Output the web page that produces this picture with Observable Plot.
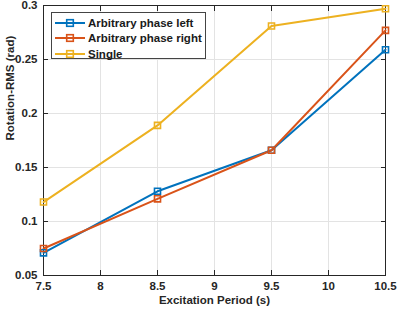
<!DOCTYPE html>
<html>
<head>
<meta charset="utf-8">
<script src="https://cdn.jsdelivr.net/npm/d3@7"></script>
<script src="https://cdn.jsdelivr.net/npm/@observablehq/plot@0.6"></script>
<style>
  body { margin: 0; background: #fff; }
  #wrap { position: relative; width: 397px; height: 310px; font-family: "Liberation Sans", Arial, sans-serif; }
  #legend { position: absolute; left: 51px; top: 12px; width: 155px; height: 47px; border: 1px solid #444; background: #fff; box-sizing: border-box; }
  .row { position: absolute; left: 0; height: 16px; display: flex; align-items: center; font-size: 11.5px; font-weight: bold; color: #1a1a1a; white-space: nowrap; }
  .row svg { margin-left: 3px; margin-right: 3px; }
</style>
</head>
<body>
<div id="wrap"></div>
<script>
const periods = [7.5, 8.5, 9.5, 10.5];
const leftVals = [0.071, 0.128, 0.166, 0.259];
const rightVals = [0.075, 0.121, 0.166, 0.277];
const singleVals = [0.118, 0.189, 0.281, 0.297];
const seriesNames = ["Arbitrary phase left", "Arbitrary phase right", "Single"];
const seriesColors = ["#0072BD", "#D95319", "#EDB120"];
const xTicks = [7.5, 8, 8.5, 9, 9.5, 10, 10.5];
const yTicks = [0.05, 0.1, 0.15, 0.2, 0.25, 0.3];
const xLabel = "Excitation Period (s)";
const yLabel = "Rotation-RMS (rad)";

const allVals = [leftVals, rightVals, singleVals];
const data = [];
allVals.forEach((vals, si) => vals.forEach((v, i) => data.push({series: seriesNames[si], x: periods[i], y: v})));

const axisColor = "#262626";
const font = "'Liberation Sans', Arial, sans-serif";

const chart = Plot.plot({
  width: 397,
  height: 310,
  marginLeft: 43,
  marginRight: 12,
  marginTop: 5,
  marginBottom: 35,
  style: {fontFamily: font, fontSize: "11.5px", fontWeight: "bold", color: axisColor, background: "#fff"},
  x: {domain: [7.5, 10.5]},
  y: {domain: [0.05, 0.3]},
  color: {domain: seriesNames, range: seriesColors},
  marks: [
    Plot.gridX(xTicks, {stroke: "#e3e3e3", strokeOpacity: 1}),
    Plot.gridY(yTicks, {stroke: "#e3e3e3", strokeOpacity: 1}),
    Plot.axisX(xTicks, {anchor: "bottom", tickSize: -5, tickPadding: 11, stroke: axisColor, fill: axisColor, tickFormat: d => String(d), label: null}),
    Plot.axisX(xTicks, {anchor: "top", tickSize: -5, stroke: axisColor, fill: "none", label: null}),
    Plot.axisY(yTicks, {anchor: "left", tickSize: -5, tickPadding: 11, stroke: axisColor, fill: axisColor, tickFormat: d => String(d), label: null}),
    Plot.axisY(yTicks, {anchor: "right", tickSize: -5, stroke: axisColor, fill: "none", label: null}),
    Plot.frame({stroke: axisColor}),
    Plot.line(data, {x: "x", y: "y", z: "series", stroke: "series", strokeWidth: 2}),
    Plot.dot(data, {x: "x", y: "y", stroke: "series", symbol: "square", r: 3.4, strokeWidth: 1.6, fill: "none"}),
    Plot.text([xLabel], {frameAnchor: "bottom", dy: 28, fill: axisColor, fontSize: 11.5, fontWeight: "bold"}),
    Plot.text([yLabel], {frameAnchor: "left", dx: -33, rotate: -90, fill: axisColor, fontSize: 11.5, fontWeight: "bold"})
  ]
});

const wrap = document.getElementById("wrap");
wrap.appendChild(chart);

const legend = document.createElement("div");
legend.id = "legend";
seriesNames.forEach((name, i) => {
  const row = document.createElement("div");
  row.className = "row";
  row.style.top = (1.5 + i * 15.8) + "px";
  const c = seriesColors[i];
  row.innerHTML = `<svg width="30" height="10"><line x1="0" y1="5" x2="30" y2="5" stroke="${c}" stroke-width="2"/><rect x="11.7" y="1.7" width="6.6" height="6.6" fill="none" stroke="${c}" stroke-width="1.6"/></svg><span>${name}</span>`;
  legend.appendChild(row);
});
wrap.appendChild(legend);
</script>
</body>
</html>
